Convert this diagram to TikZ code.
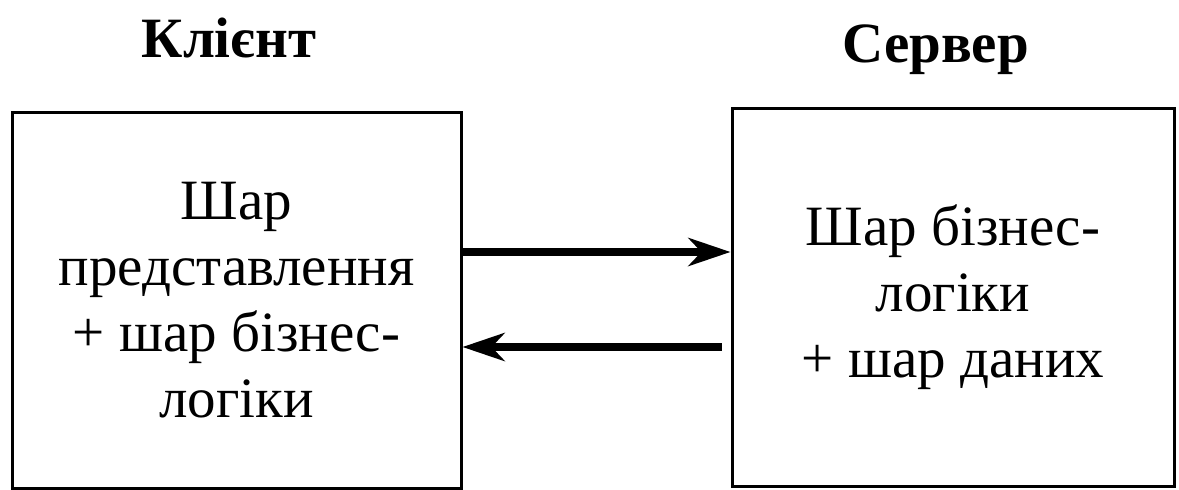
\documentclass[tikz,border=0pt]{standalone}
\usepackage{fontspec}
\setmainfont{Liberation Serif}
\usepackage{tikz}
\usetikzlibrary{positioning, arrows.meta}

\begin{document}
\begin{tikzpicture}[>={Stealth[length=42pt, width=28pt, inset=13pt]}, x=1pt, y=-1pt,
    bloc/.style={draw, line width=3pt, align=center, inner sep=0pt, font=\fontsize{57}{66}\selectfont},
    titre/.style={font=\bfseries\fontsize{57}{66}\selectfont, inner sep=0pt},
    fleche/.style={->, line width=8pt}]

        \useasboundingbox (0,0) rectangle (1179,490);

        % Blocs
        \node [bloc, minimum width=449pt, minimum height=376pt] (client) at (236.5,300) {Шар\\представлення\\+ шар бізнес-\\логіки};
        \node [bloc, minimum width=442pt, minimum height=378pt] (server) at (953,297) {Шар бізнес-\\логіки\\+ шар даних};

        % Titres
        \node [titre, above=53.5pt of client.north, anchor=base, xshift=-7.5pt] (clientlabel) {Клієнт};
        \node [titre, above=44.5pt of server.north, anchor=base, xshift=-17.5pt] (serverlabel) {Сервер};

        % Flèches
        \draw [fleche] ([yshift=48pt]client.east) -- ([yshift=45pt]server.west);
        \draw [fleche] ([yshift=-50pt, xshift=-9pt]server.west) -- ([yshift=-47pt]client.east);

    \end{tikzpicture}
\end{document}
